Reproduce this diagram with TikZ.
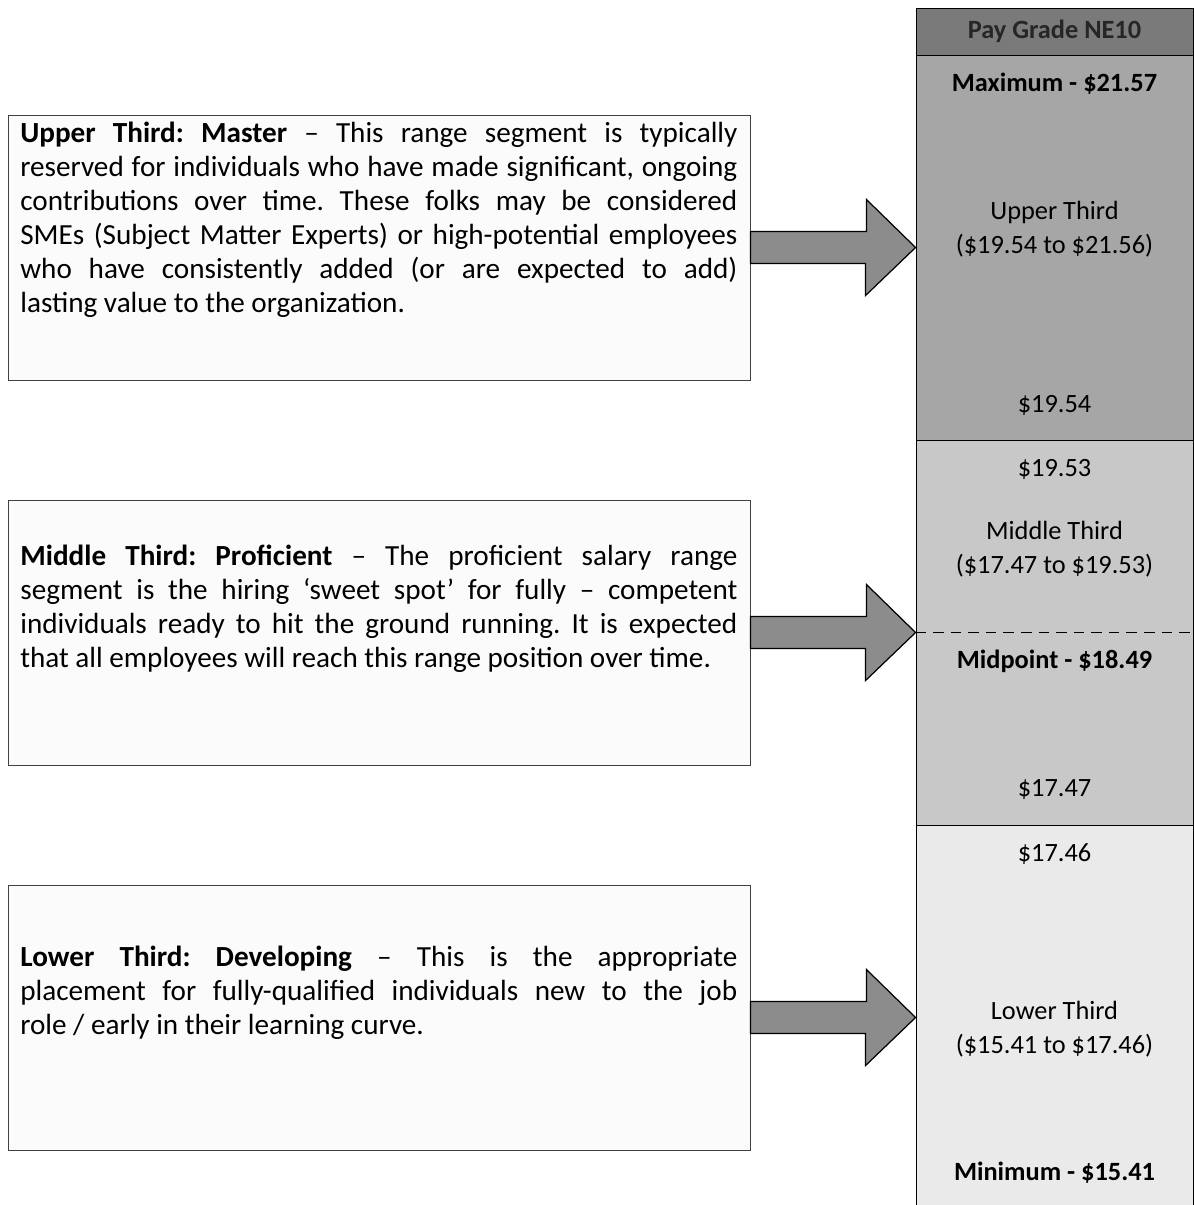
\documentclass[tikz,border=0pt]{standalone}
\usepackage{fontspec}
\setmainfont{Carlito}
\usetikzlibrary{positioning}
\frenchspacing
\definecolor{pgHead}{RGB}{122,122,122}
\definecolor{pgUpper}{RGB}{166,166,166}
\definecolor{pgMid}{RGB}{200,200,200}
\definecolor{pgLow}{RGB}{234,234,234}
\definecolor{pgArrow}{RGB}{140,140,140}
\definecolor{pgBox}{RGB}{251,251,251}

\begin{document}
\begin{tikzpicture}[
  seg/.style={
    draw=black, line width=0.5pt,
    minimum width=5.54cm, inner sep=0pt
  },
  band/.style={
    font=\fontsize{15}{19.3}\selectfont, align=center, inner sep=0pt
  },
  bandbold/.style={
    band, font=\fontsize{15}{19.3}\selectfont\bfseries
  },
  descbox/.style={
    draw=black!75, fill=pgBox, line width=0.5pt,
    minimum width=14.84cm, minimum height=5.3cm
  },
  desc/.style={
    text width=14.34cm, align=justify, inner sep=0pt,
    font=\fontsize{16.6}{19.3}\selectfont
  },
  bigarrow/.style={
    draw=black, fill=pgArrow, line width=0.7pt, line join=miter
  }
]
\useasboundingbox (0,0) rectangle (23.86,-24.10);

\node[seg, fill=pgHead, minimum height=0.94cm,
      font=\fontsize{15}{19.3}\selectfont\bfseries, text=black!85] (hdr) at (21.09,-0.63) {Pay Grade NE10};
\node[seg, fill=pgUpper, minimum height=7.70cm] (upper)  at (21.09,-4.95)  {};
\node[seg, fill=pgMid,   minimum height=7.70cm] (middle) at (21.09,-12.65) {};
\node[seg, fill=pgLow,   minimum height=7.70cm] (lower)  at (21.09,-20.35) {};
\draw[dashed, dash pattern=on 6pt off 4pt, line width=0.5pt] (middle.west) -- (middle.east);

\node[bandbold] (maxval) at (21.09,-1.67)  {Maximum - \$21.57};
\node[band] (uplbl)  at (21.09,-4.59)  {Upper Third\\(\$19.54 to \$21.56)};
\node[band] (uptop)  at (21.09,-8.10)  {\$19.54};
\node[band] (midbot) at (21.09,-9.38)  {\$19.53};
\node[band] (midlbl) at (21.09,-10.99) {Middle Third\\(\$17.47 to \$19.53)};
\node[bandbold] (midpt) at (21.09,-13.22) {Midpoint - \$18.49};
\node[band] (midtop) at (21.09,-15.78) {\$17.47};
\node[band] (lowtop) at (21.09,-17.08) {\$17.46};
\node[band] (lowlbl) at (21.09,-20.59) {Lower Third\\(\$15.41 to \$17.46)};
\node[bandbold] (minval) at (21.09,-23.46) {Minimum - \$15.41};

\node[descbox] (mastbox) at (7.58,-4.95)  {};
\node[descbox] (profbox) at (7.58,-12.65) {};
\node[descbox] (devbox)  at (7.58,-20.35) {};

\node[desc, anchor=north west] (masttxt) at (0.40,-2.44)
  {\textbf{Upper Third: Master} -- This range segment is typically\linebreak
   reserved for individuals who have made significant, ongoing\linebreak
   contributions over time. These folks may be considered\linebreak
   SMEs (Subject Matter Experts) or high-potential employees\linebreak
   who have consistently added (or are expected to add)\linebreak
   lasting value to the organization.};
\node[desc, anchor=north west] (proftxt) at (0.40,-10.90)
  {\textbf{Middle Third: Proficient} -- The proficient salary range\linebreak
   segment is the hiring ‘sweet spot’ for fully -- competent\linebreak
   individuals ready to hit the ground running. It is expected\linebreak
   that all employees will reach this range position over time.};
\node[desc, anchor=north west] (devtxt) at (0.40,-18.92)
  {\textbf{Lower Third: Developing} -- This is the appropriate\linebreak
   placement for fully-qualified individuals new to the job\linebreak
   role / early in their learning curve.};

\draw[bigarrow] ([yshift=0.32cm]mastbox.east) -- ++(2.32,0) -- ++(0,0.64) -- (upper.west)
  -- ([xshift=-1cm,yshift=-0.96cm]upper.west) -- ++(0,0.64) -- ([yshift=-0.32cm]mastbox.east) -- cycle;
\draw[bigarrow] ([yshift=0.32cm]profbox.east) -- ++(2.32,0) -- ++(0,0.64) -- (middle.west)
  -- ([xshift=-1cm,yshift=-0.96cm]middle.west) -- ++(0,0.64) -- ([yshift=-0.32cm]profbox.east) -- cycle;
\draw[bigarrow] ([yshift=0.32cm]devbox.east) -- ++(2.32,0) -- ++(0,0.64) -- (lower.west)
  -- ([xshift=-1cm,yshift=-0.96cm]lower.west) -- ++(0,0.64) -- ([yshift=-0.32cm]devbox.east) -- cycle;
\end{tikzpicture}
\end{document}
